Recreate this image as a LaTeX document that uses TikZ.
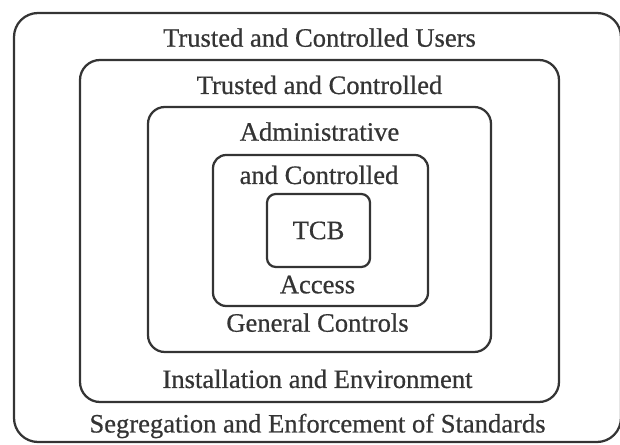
\documentclass[tikz,border=0pt]{standalone}
\usepackage{fontspec}
\setmainfont{Liberation Serif}
\newfontfamily\labelfont{Liberation Serif}[FakeBold=0.6]
\definecolor{ink}{RGB}{52,52,52}
\tikzset{
  layer/.style={draw=ink, line width=1.6pt},
  lbl/.style={anchor=base, text=ink, inner sep=0pt, font=\labelfont\fontsize{18.9}{22}\selectfont},
}

\begin{document}
\begin{tikzpicture}[line cap=round,line join=round,x=0.025cm,y=-0.025cm]
\clip(0,0) rectangle (620,445);
\draw [layer,rounded corners=0.6cm] (14,13) rectangle (621,442);
\draw [layer,rounded corners=0.5cm] (80,60) rectangle (559,402);
\draw [layer,rounded corners=0.42cm] (148,107) rectangle (491,352);
\draw [layer,rounded corners=0.33cm] (213,155) rectangle (428,306);
\node [layer,rounded corners=0.22cm,text=ink,font=\labelfont\fontsize{18.9}{22}\selectfont,
  minimum width=2.575cm,minimum height=1.825cm,inner sep=0pt] (tcb) at (318.5,230.5) {TCB};
\draw (319.5,46.7) node[lbl] (users) {Trusted and Controlled Users};
\draw (319.5,94) node[lbl] (trusted) {Trusted and Controlled};
\draw (319.5,140.7) node[lbl] (admin) {Administrative};
\draw (319,184) node[lbl] (andctrl) {and Controlled};
\draw (317.5,293.3) node[lbl] (access) {Access};
\draw (317.5,331.7) node[lbl] (general) {General Controls};
\draw (317.5,388) node[lbl] (install) {Installation and Environment};
\draw (317.5,432.5) node[lbl] (segreg) {Segregation and Enforcement of Standards};
\end{tikzpicture}
\end{document}
